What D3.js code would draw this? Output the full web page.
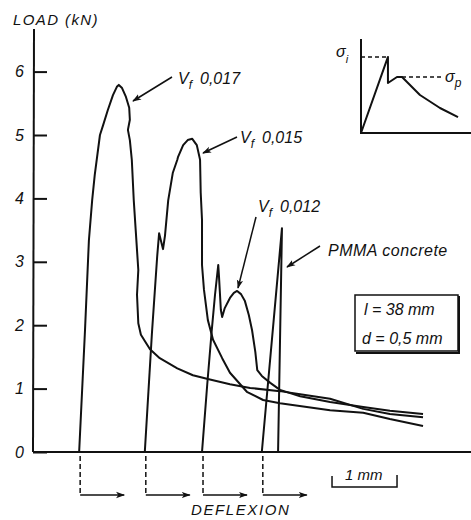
<!DOCTYPE html>
<html>
<head>
<meta charset="utf-8">
<script src="https://cdn.jsdelivr.net/npm/d3@7/dist/d3.min.js"></script>
<style>
  body { margin: 0; background: #fff; }
  text { font-family: "Liberation Sans", Arial, sans-serif; font-style: italic; fill: #111; }
</style>
</head>
<body>
<svg id="chart" width="471" height="520"></svg>
<script>
// load (kN) vs deflexion (mm), curves
var vf017 = [[0.71,0],[0.80,1.92],[0.86,3.34],[0.91,3.97],[0.95,4.37],[1.03,5.00],[1.08,5.16],[1.15,5.39],[1.23,5.63],[1.29,5.76],[1.32,5.79],[1.37,5.74],[1.43,5.60],[1.48,5.43],[1.49,5.24],[1.46,5.08],[1.49,4.92],[1.52,4.61],[1.55,3.97],[1.58,3.50],[1.62,2.87],[1.60,2.48],[1.62,2.03],[1.66,1.85],[1.72,1.75],[1.80,1.62],[1.95,1.48],[2.22,1.32],[2.46,1.21],[2.69,1.15],[3.03,1.07],[3.34,1.01],[3.80,0.96],[4.11,0.91],[4.57,0.84],[5.08,0.68],[5.49,0.60],[6.00,0.55]]
var vf015 = [[1.72,0],[1.83,1.88],[1.91,3.08],[1.94,3.45],[2.00,3.20],[2.03,3.41],[2.08,3.97],[2.15,4.40],[2.22,4.61],[2.23,4.65],[2.31,4.84],[2.38,4.92],[2.45,4.94],[2.52,4.84],[2.57,4.61],[2.58,4.09],[2.60,3.66],[2.60,2.95],[2.63,2.56],[2.69,2.08],[2.77,1.77],[2.91,1.48],[3.03,1.25],[3.29,0.95],[3.54,0.82],[3.80,0.77],[4.57,0.66],[5.08,0.62],[5.49,0.52],[6.00,0.41]]
var vf012 = [[2.60,0],[2.68,1.06],[2.75,1.92],[2.80,2.48],[2.85,2.95],[2.86,2.79],[2.89,2.24],[2.91,2.13],[2.95,2.27],[3.03,2.43],[3.09,2.51],[3.14,2.54],[3.20,2.49],[3.26,2.38],[3.32,2.16],[3.37,1.92],[3.42,1.58],[3.45,1.29],[3.52,1.20],[3.65,1.09],[3.80,0.98],[4.11,0.88],[4.57,0.79],[5.08,0.71],[5.49,0.65],[6.00,0.60]]
var pmma = [[3.52,0],[3.83,3.53],[3.77,0]]

var series = [vf017, vf015, vf012, pmma]
var loadTicks = [0, 1, 2, 3, 4, 5, 6]

// inset sketch (relative units)
var insetCurve = [[0,0],[24.5,80.9],[24.5,53.2],[32.7,59.6],[37.3,59.6],[53.6,40.4],[71.8,26.6],[88.2,17.0]]
var sigmaI = 80.9
var sigmaP = 59.6

var svg = d3.select("#chart")
var ink = "#111"

var x = d3.scaleLinear().domain([0, 6.738]).range([33, 471])
var y = d3.scaleLinear().domain([0, 6]).range([452, 71.6])

svg.append("defs").append("marker")
    .attr("id", "head")
    .attr("viewBox", "0 0 10 10")
    .attr("refX", 9).attr("refY", 5)
    .attr("markerWidth", 9).attr("markerHeight", 9)
    .attr("markerUnits", "userSpaceOnUse")
    .attr("orient", "auto")
  .append("path")
    .attr("d", "M0,1.5 L10,5 L0,8.5 L2.5,5 Z")
    .style("fill", ink)

// axes
var yAxis = d3.axisLeft(y).tickValues(loadTicks).tickSizeInner(-14).tickSizeOuter(0).tickPadding(9).tickFormat(d3.format("d"))
var gy = svg.append("g").attr("transform", "translate(" + x(0) + ",0)").call(yAxis)
gy.select(".domain").remove()
gy.selectAll(".tick line").style("stroke", ink).style("stroke-width", 2)
gy.selectAll(".tick text").style("font-size", "16px").style("font-family", "Liberation Sans, Arial, sans-serif").style("font-style", "italic").style("fill", ink)

svg.append("line")
    .attr("x1", x(0)).attr("y1", y(0)).attr("x2", x(0) + 1).attr("y2", y(6.67))
    .style("stroke", ink).style("stroke-width", 2)
svg.append("line")
    .attr("x1", x(0)).attr("y1", y(0)).attr("x2", x(6.738)).attr("y2", y(0))
    .style("stroke", ink).style("stroke-width", 2)

svg.append("text").attr("x", 13).attr("y", 25)
    .style("font-size", "15px").style("letter-spacing", "1.4px")
    .text("LOAD (kN)")

// curves
var line = d3.line().x(function(d){ return x(d[0]) }).y(function(d){ return y(d[1]) })

svg.selectAll("path.curve")
    .data(series)
    .enter()
    .append("path")
    .attr("class", "curve")
    .attr("d", line)
    .style("fill", "none")
    .style("stroke", ink)
    .style("stroke-width", 2)
    .style("stroke-linejoin", "round")

// origin shift markers under the axis
var starts = series.map(function(s){ return s[0][0] })
var mk = svg.selectAll("g.shift").data(starts).enter().append("g").attr("class", "shift")
mk.append("line")
    .attr("x1", function(d){ return x(d) + 1 }).attr("x2", function(d){ return x(d) + 1 })
    .attr("y1", 456).attr("y2", 495)
    .style("stroke", ink).style("stroke-width", 1.5).style("stroke-dasharray", "5,3")
mk.append("line")
    .attr("x1", function(d){ return x(d) + 1 }).attr("x2", function(d){ return x(d) + 45 })
    .attr("y1", 495).attr("y2", 495)
    .attr("marker-end", "url(#head)")
    .style("stroke", ink).style("stroke-width", 1.5)

svg.append("text").attr("x", 191).attr("y", 515)
    .style("font-size", "15px").style("letter-spacing", "1.6px")
    .text("DEFLEXION")

// 1 mm scale bar
var s0 = 4.6
svg.append("path")
    .attr("d", "M" + x(s0) + ",476 V487 H" + x(s0 + 1) + " V475")
    .style("fill", "none").style("stroke", ink).style("stroke-width", 1.5)
svg.append("text").attr("x", 345).attr("y", 480)
    .style("font-size", "15px")
    .text("1 mm")

// curve labels
var labels = [
  {num: "0,017", tx: 178, ty: 84, a: [172, 77, 133, 101]},
  {num: "0,015", tx: 240, ty: 143, a: [237, 137, 203, 153]},
  {num: "0,012", tx: 258, ty: 212, a: [256, 217, 238, 288]}
]
labels.forEach(function(l){
  var t = svg.append("text").attr("x", l.tx).attr("y", l.ty).style("font-size", "16px")
  t.append("tspan").text("V")
  t.append("tspan").attr("dy", 5).style("font-size", "12px").text("f")
  t.append("tspan").attr("dy", -5).attr("dx", 8).text(l.num)
  svg.append("line")
      .attr("x1", l.a[0]).attr("y1", l.a[1]).attr("x2", l.a[2]).attr("y2", l.a[3])
      .attr("marker-end", "url(#head)")
      .style("stroke", ink).style("stroke-width", 1.5)
})
svg.append("text").attr("x", 328).attr("y", 256)
    .style("font-size", "16px").style("letter-spacing", "0.5px")
    .text("PMMA concrete")
svg.append("line")
    .attr("x1", 320).attr("y1", 246).attr("x2", 287).attr("y2", 267)
    .attr("marker-end", "url(#head)")
    .style("stroke", ink).style("stroke-width", 1.5)

// fibre box
svg.append("rect").attr("x", 355).attr("y", 295).attr("width", 103).attr("height", 56)
    .style("fill", "none").style("stroke", ink).style("stroke-width", 1.5)
svg.append("path").attr("d", "M459,296 V353 H356")
    .style("fill", "none").style("stroke", ink).style("stroke-width", 2)
svg.append("text").attr("x", 364).attr("y", 315).style("font-size", "16px").text("l = 38 mm")
svg.append("text").attr("x", 362).attr("y", 344).style("font-size", "16px").text("d = 0,5 mm")

// inset
var ix = d3.scaleLinear().domain([0, 100]).range([361, 471])
var iy = d3.scaleLinear().domain([0, 100]).range([133, 39])
svg.append("path")
    .attr("d", "M" + ix(0) + "," + iy(100) + " V" + iy(0) + " H" + ix(100))
    .style("fill", "none").style("stroke", ink).style("stroke-width", 2)
svg.append("path")
    .attr("d", d3.line().x(function(d){ return ix(d[0]) }).y(function(d){ return iy(d[1]) })(insetCurve))
    .style("fill", "none").style("stroke", ink).style("stroke-width", 2).style("stroke-linejoin", "round")
svg.append("line").attr("x1", ix(0)).attr("x2", ix(24.5)).attr("y1", iy(sigmaI)).attr("y2", iy(sigmaI))
    .style("stroke", ink).style("stroke-width", 1.5).style("stroke-dasharray", "4,3")
svg.append("line").attr("x1", ix(37.3)).attr("x2", ix(74.5)).attr("y1", iy(sigmaP)).attr("y2", iy(sigmaP))
    .style("stroke", ink).style("stroke-width", 1.5).style("stroke-dasharray", "4,3")
var si = svg.append("text").attr("x", 336).attr("y", 57).style("font-size", "16px")
si.append("tspan").text("σ")
si.append("tspan").attr("dy", 6).style("font-size", "11px").text("i")
var sp = svg.append("text").attr("x", 445).attr("y", 82).style("font-size", "16px")
sp.append("tspan").text("σ")
sp.append("tspan").attr("dy", 5).style("font-size", "12px").text("p")
</script>
</body>
</html>
